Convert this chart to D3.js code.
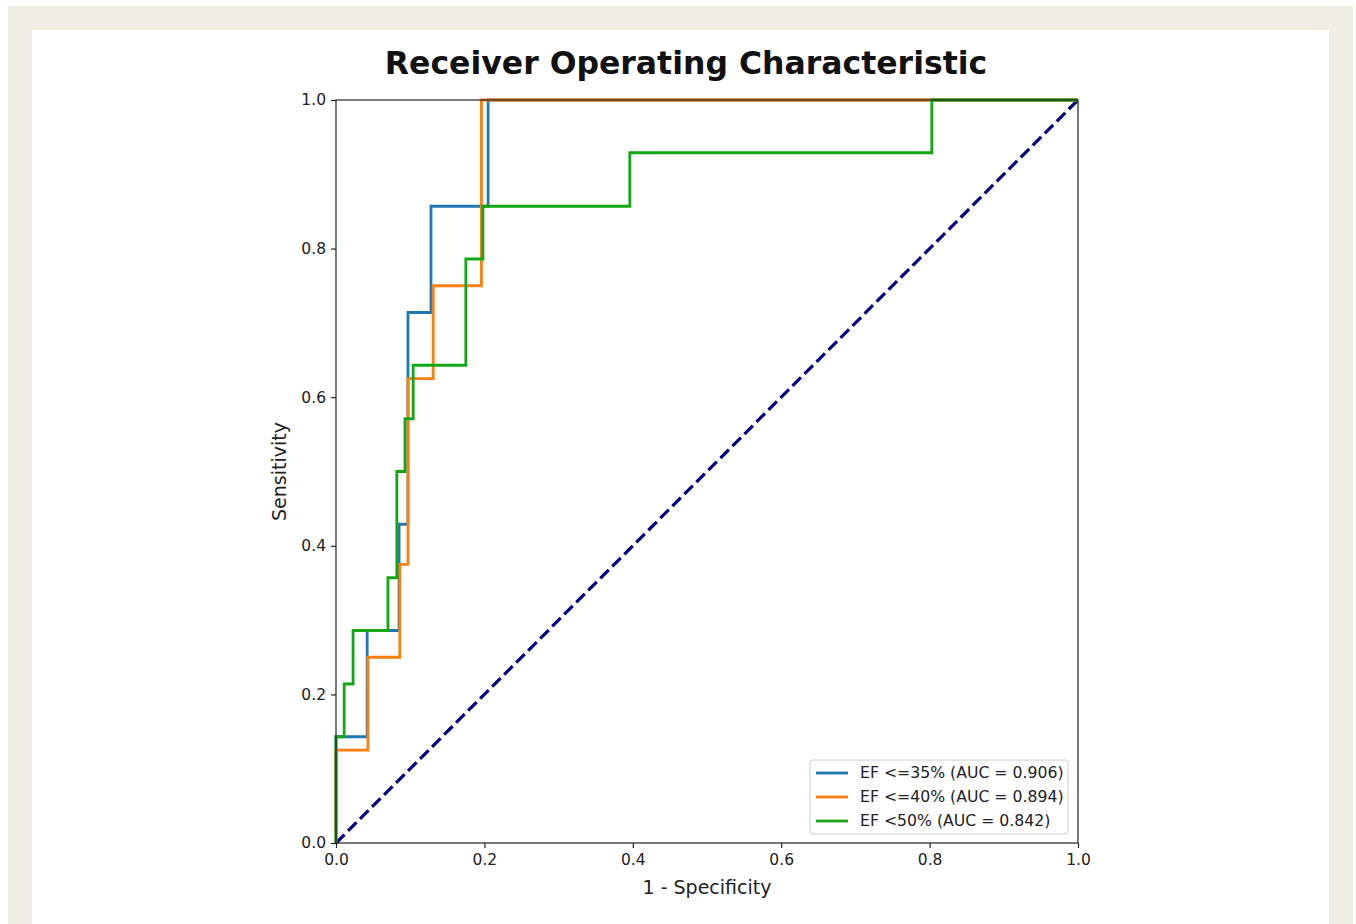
<!DOCTYPE html>
<html>
<head>
<meta charset="utf-8">
<script src="https://cdn.jsdelivr.net/npm/d3@7"></script>
<style>
    body { margin: 0; background: #ffffff; }
    svg { display: block; }
</style>
</head>
<body>
<div id="chart-container"></div>
<script>
// Data kurva ROC (fpr, tpr)
const blueFpr = [0, 0, 0.042, 0.042, 0.085, 0.085, 0.097, 0.097, 0.128, 0.128, 0.205, 0.205, 1];
const blueTpr = [0, 0.143, 0.143, 0.286, 0.286, 0.429, 0.429, 0.714, 0.714, 0.857, 0.857, 1, 1];

const orangeFpr = [0, 0, 0.043, 0.043, 0.086, 0.086, 0.097, 0.097, 0.131, 0.131, 0.196, 0.196, 1];
const orangeTpr = [0, 0.125, 0.125, 0.25, 0.25, 0.375, 0.375, 0.625, 0.625, 0.75, 0.75, 1, 1];

const greenFpr = [0, 0, 0.011, 0.011, 0.023, 0.023, 0.070, 0.070, 0.082, 0.082, 0.093, 0.093, 0.104, 0.104, 0.175, 0.175, 0.198, 0.198, 0.396, 0.396, 0.803, 0.803, 1];
const greenTpr = [0, 0.143, 0.143, 0.214, 0.214, 0.286, 0.286, 0.357, 0.357, 0.5, 0.5, 0.571, 0.571, 0.643, 0.643, 0.786, 0.786, 0.857, 0.857, 0.929, 0.929, 1, 1];

const seriesNames = ["EF <=35% (AUC = 0.906)", "EF <=40% (AUC = 0.894)", "EF <50% (AUC = 0.842)"];
const seriesColors = ["#1f77b4", "#ff7f0e", "#13a813"];
const diagonal = [[0, 0], [1, 1]];
const tickValues = [0, 0.2, 0.4, 0.6, 0.8, 1.0];

const W = 1356, H = 924;
const svg = d3.select("#chart-container").append("svg")
    .attr("width", W).attr("height", H)
    .style("font-family", "'DejaVu Sans', sans-serif");

// Bingkai latar
svg.append("rect").attr("x", 8).attr("y", 6).attr("width", 1345).attr("height", H - 6).attr("fill", "#efeee4");
svg.append("rect").attr("x", 32).attr("y", 30).attr("width", 1297).attr("height", H - 30).attr("fill", "#ffffff");

// Area plot
const margin = { left: 336, top: 100 };
const width = 742, height = 743;
const g = svg.append("g").attr("transform", `translate(${margin.left},${margin.top})`);

const xScale = d3.scaleLinear().domain([0, 1]).range([0, width]);
const yScale = d3.scaleLinear().domain([0, 1]).range([height, 0]);

const line = d3.line().x(d => xScale(d[0])).y(d => yScale(d[1]));

// Garis diagonal putus-putus
g.append("path")
    .datum(diagonal)
    .attr("fill", "none")
    .attr("stroke", "#000080")
    .attr("stroke-width", 3.2)
    .attr("stroke-dasharray", "12,5")
    .attr("d", line);

// Kurva ROC
const allSeries = [
    d3.zip(blueFpr, blueTpr),
    d3.zip(orangeFpr, orangeTpr),
    d3.zip(greenFpr, greenTpr)
];
allSeries.forEach((pts, i) => {
    g.append("path")
        .datum(pts)
        .attr("fill", "none")
        .attr("stroke", seriesColors[i])
        .attr("stroke-width", 2.8)
        .attr("stroke-linejoin", "miter")
        .attr("d", line);
});

// Sumbu
const fmt = d3.format(".1f");
const xAxis = g.append("g")
    .attr("transform", `translate(0,${height})`)
    .call(d3.axisBottom(xScale).tickValues(tickValues).tickFormat(fmt).tickSizeInner(5).tickSizeOuter(0).tickPadding(6));
const yAxis = g.append("g")
    .call(d3.axisLeft(yScale).tickValues(tickValues).tickFormat(fmt).tickSizeInner(5).tickSizeOuter(0).tickPadding(5));
[xAxis, yAxis].forEach(ax => {
    ax.select(".domain").remove();
    ax.selectAll("line").attr("stroke", "#222").attr("stroke-width", 1.2);
    ax.selectAll("text").style("font-size", "15.5px").attr("fill", "#222").style("font-family", "'DejaVu Sans', sans-serif");
});

// Kotak plot
g.append("rect")
    .attr("width", width).attr("height", height)
    .attr("fill", "none").attr("stroke", "#222").attr("stroke-width", 1.2);

// Label sumbu
svg.append("text")
    .attr("x", margin.left + width / 2)
    .attr("y", 894)
    .attr("text-anchor", "middle")
    .style("font-size", "19px")
    .attr("fill", "#222")
    .text("1 - Specificity");

svg.append("text")
    .attr("transform", `translate(286,${margin.top + height / 2}) rotate(-90)`)
    .attr("text-anchor", "middle")
    .style("font-size", "19px")
    .attr("fill", "#222")
    .text("Sensitivity");

// Judul
svg.append("text")
    .attr("x", 686)
    .attr("y", 74)
    .attr("text-anchor", "middle")
    .style("font-size", "31.5px")
    .style("font-weight", "bold")
    .attr("fill", "#111")
    .text("Receiver Operating Characteristic");

// Legenda
const legend = svg.append("g").attr("transform", "translate(810,760)");
legend.append("rect")
    .attr("width", 258).attr("height", 74).attr("rx", 3)
    .attr("fill", "#fff").attr("stroke", "#cccccc").attr("stroke-width", 1);
seriesNames.forEach((name, i) => {
    const yy = 13 + i * 24;
    legend.append("line")
        .attr("x1", 6).attr("x2", 38).attr("y1", yy).attr("y2", yy)
        .attr("stroke", seriesColors[i]).attr("stroke-width", 2.8);
    legend.append("text")
        .attr("x", 50).attr("y", yy + 5)
        .style("font-size", "15.7px")
        .attr("fill", "#222")
        .text(name);
});
</script>
</body>
</html>
